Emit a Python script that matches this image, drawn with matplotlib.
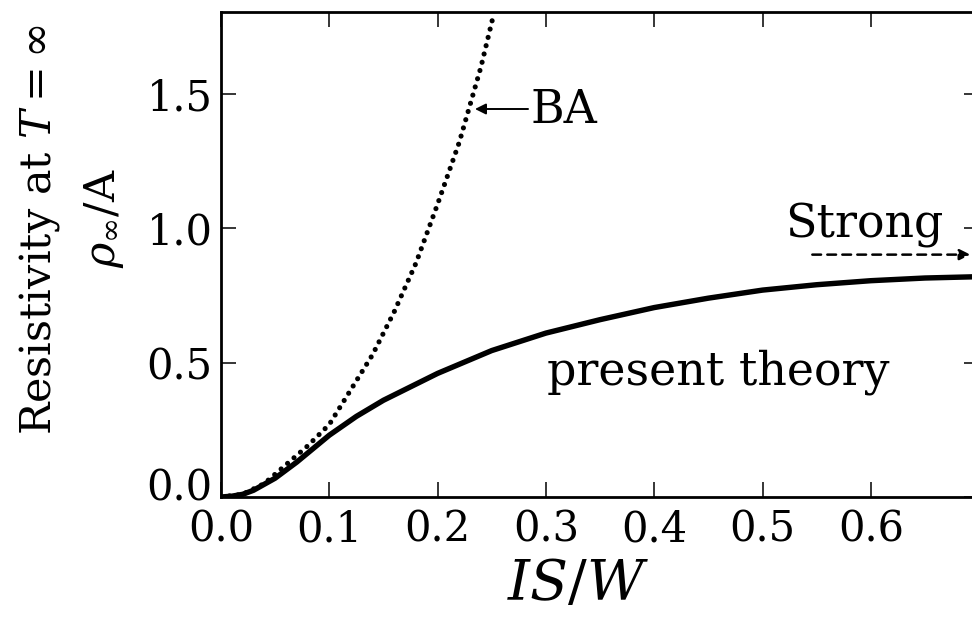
import matplotlib
matplotlib.use("Agg")
import matplotlib.pyplot as plt
from matplotlib.transforms import ScaledTranslation

# Data
present_x = [0.0, 0.01, 0.02, 0.03, 0.05, 0.07, 0.085, 0.10, 0.125, 0.15, 0.175, 0.20,
             0.25, 0.30, 0.35, 0.40, 0.45, 0.50, 0.55, 0.60, 0.65, 0.70]
present_y = [0.0, 0.003, 0.01, 0.025, 0.07, 0.13, 0.18, 0.23, 0.30, 0.36, 0.41, 0.46,
             0.545, 0.61, 0.66, 0.705, 0.74, 0.77, 0.79, 0.805, 0.815, 0.82]

ba_x = [0.0, 0.02, 0.04, 0.06, 0.08, 0.10, 0.12, 0.14, 0.16, 0.18, 0.20, 0.22, 0.24, 0.252]
ba_y = [0.0, 0.01, 0.05, 0.12, 0.19, 0.27, 0.40, 0.53, 0.69, 0.87, 1.09, 1.32, 1.60, 1.80]

xticks = [0.0, 0.1, 0.2, 0.3, 0.4, 0.5, 0.6]
xticklabels = ["0.0", "0.1", "0.2", "0.3", "0.4", "0.5", "0.6"]
yticks = [0.0, 0.5, 1.0, 1.5]
yticklabels = ["0.0", "0.5", "1.0", "1.5"]

plt.rcParams['font.family'] = ['DejaVu Serif']
plt.rcParams['mathtext.fontset'] = 'dejavuserif'

W, H = 972, 618
fig = plt.figure(figsize=(W / 100, H / 100), dpi=100)
x0_px, x1_px = 221, 221 + 0.7 * 1083
ax = fig.add_axes([x0_px / W, 1 - 497 / H, (x1_px - x0_px) / W, (497 - 12) / H])

ax.plot(present_x, present_y, color='black', lw=3.9, solid_capstyle='round',
        solid_joinstyle='round')
ax.plot(ba_x, ba_y, color='black', lw=3.7, linestyle=(0, (0.01, 1.65)),
        dash_capstyle='round')

ax.set_xlim(0, 0.7)
ax.set_ylim(0, 1.805)
ax.set_xticks(xticks)
ax.set_xticklabels(xticklabels)
ax.set_yticks(yticks)
ax.set_yticklabels(yticklabels)
ax.tick_params(direction='in', length=11, width=1.1, labelsize=30,
               top=True, right=True, pad=6)
ax.tick_params(axis='x', pad=8)
for s in ax.spines.values():
    s.set_linewidth(2.0)

# shift the y "0.0" label up a little, as in the reference
lab0 = ax.get_yticklabels()[0]
lab0.set_transform(lab0.get_transform() + ScaledTranslation(0, 0.13, fig.dpi_scale_trans))

# Annotations
ax.annotate("", xy=(0.2345, 1.444), xytext=(0.2835, 1.444),
            arrowprops=dict(arrowstyle='-|>', color='black', lw=1.4,
                            mutation_scale=16, shrinkA=0, shrinkB=0))
ax.text(0.286, 1.392, "BA", fontsize=33, va='baseline', ha='left')
ax.text(0.521, 0.964, "Strong", fontsize=33, ha='left', va='baseline')
ax.annotate("", xy=(0.692, 0.902), xytext=(0.546, 0.902),
            arrowprops=dict(arrowstyle='-|>', color='black', lw=1.8,
                            linestyle=(0, (3.5, 2.5)), mutation_scale=16,
                            shrinkA=0, shrinkB=0))
ax.text(0.301, 0.417, "present theory", fontsize=33, ha='left', va='baseline')

ax.set_xlabel("$IS/W$", fontsize=40)
ax.xaxis.set_label_coords((578 - x0_px) / (x1_px - x0_px), -0.125)

fig.text(40 / W, 1 - 230 / H, "Resistivity at $T=\\infty$", rotation=90,
         fontsize=31, ha='center', va='center')
fig.text(104 / W, 1 - 218 / H, "$\\rho_\\infty$/A", rotation=90,
         fontsize=31, ha='center', va='center')

fig.savefig("out.png", dpi=100)
